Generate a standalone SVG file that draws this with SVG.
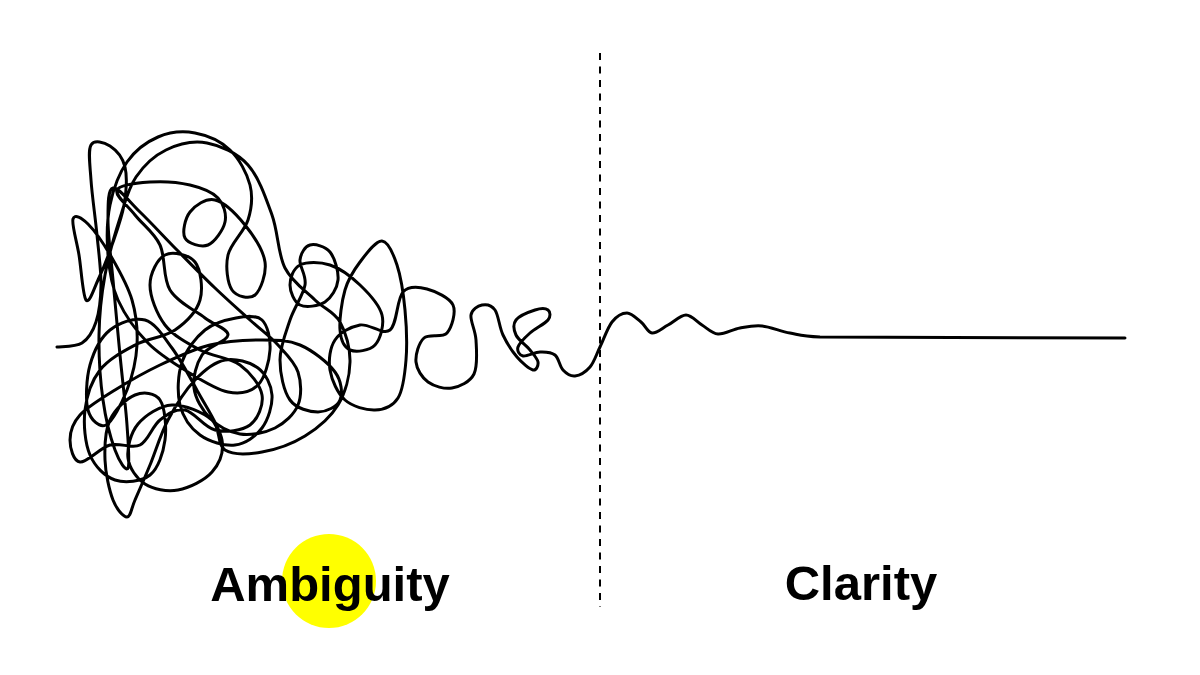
<svg xmlns="http://www.w3.org/2000/svg" width="1200" height="675" viewBox="0 0 1200 675">
<style>
.ink{fill:none;stroke:#000;stroke-width:3;stroke-linecap:round;stroke-linejoin:round}
.divider{fill:none;stroke:#000;stroke-width:2;stroke-dasharray:7 6.5}
.label{font-family:"Liberation Sans",Arial,Helvetica,sans-serif;font-weight:bold;font-size:49px;fill:#000;text-anchor:middle}
</style>
<rect width="1200" height="675" fill="#fff"/>
<g id="divider">
<line class="divider" x1="600" y1="53" x2="600" y2="607"/>
</g>
<g id="scribble">
<path class="ink" d="M57 347 C61.2 346.3 75.5 347.2 82 343 S92.8 331.7 96 322 S100.8 299.5 101 285 S98.7 252.5 97 235 S92 195 91 180 S87.8 150.7 91 145 S104.3 142.3 110 146 S122.7 157.2 125 167 S126.2 192 124 205 S116.3 232.5 112 245 S102.3 270.8 98 280 S89.2 304.2 86 300 S81.2 268.5 79 255 S71.5 224.2 73 219 S81.5 217.5 88 224 S104.7 245.3 112 258 S127.8 285.5 132 300 S137.8 330 137 345 S132.2 376.7 127 390 S112.5 421.7 106 425 S90.7 420 88 410 S86.3 378.3 90 365 S100.8 337.5 110 330 S134.7 317 145 320 S163.2 336 172 348 S189.7 376.7 198 392 S219.7 426.7 222 440 S219.3 463.7 212 472 S189.2 488 178 490 S153.3 489.3 145 484 S129.2 468 128 458 S130.7 432.8 138 424 S159.7 405.7 172 405 S203.2 412.5 212 420 S216.7 444.7 225 450 S248.7 454.3 262 452 S292.3 443.8 305 436 S330.5 417.3 338 405 S349.7 375.8 350 362 S345.8 332.3 340 322 S324.2 309 315 300 S292.2 282.2 285 268 S278.2 232.2 272 215 S258.8 177 248 165 S220.7 145.5 207 143 S177.8 144.3 166 150 S143.7 165.7 136 177 S125.2 201.7 120 218 S108.5 255.5 105 275 S99.3 314.2 99 335 S100.3 380.8 103 400 S110.8 438.7 115 450 S126 472.2 128 468 S128.3 443.8 127 425 S122.3 379.2 120 355 S115 302.5 113 280 S108 235.3 108 220 S107.7 189.3 113 188 S129.3 201.7 140 212 S164.5 237.3 177 250 S202.8 276.3 215 288 S239.5 310.5 250 320 S270 336.3 278 345 S294.7 362 298 372 S301.8 395.7 298 405 S284.7 423.2 275 428 S250.8 435.7 240 434 S217.7 425.7 210 418 S195.3 398.5 194 388 S196.3 363.8 202 355 S227.5 341.2 228 335 S214.7 325.5 205 318 S177.5 302.2 170 290 S165.8 257.5 160 245 S142.2 224.2 135 215 S114.5 195.5 117 190 S137.8 182.8 150 182 S178.7 182.3 190 185 S212.2 191.8 218 198 S226.7 214.2 225 222 S214.7 242.3 208 245 S188 243.5 185 238 S185 218.3 190 212 S205.8 197.8 215 200 S236.7 214.7 245 225 S263.3 250.3 265 262 S260.5 290.3 255 295 S236.5 296.7 232 290 S225.3 266.7 228 255 S244.3 231.7 248 220 S253 196.7 250 185 S239.2 158.7 230 150 S207 135.2 195 133 S169.3 132.2 158 137 S135 150.7 127 162 S113.2 189.5 110 205 S106.7 239.2 108 255 S111.3 285.3 118 300 S136.3 331 148 343 S174.7 363.8 188 372 S216.3 389.8 228 392 S251 392 258 385 S269.3 360.8 270 350 S267.7 325.3 262 320 S245.5 316.3 236 318 S214 322.7 205 330 S186.2 349.5 182 362 S177 392.8 180 405 S190.8 428.3 200 435 S224.7 446.2 235 445 S255.8 436.3 262 428 S272.7 405 272 395 S265.8 373.8 258 368 S235.5 358 225 360 S204.5 370 195 380 S175.5 405.8 168 420 S155.5 451.7 150 465 S138.8 491.3 135 500 S130.7 517 127 517 S116.7 509.5 113 500 S105.5 473.3 105 460 S105 430.8 110 420 S126.7 398.3 135 395 S155 392.5 160 400 S166.7 427.5 165 440 S158.3 468.3 150 475 S125 483.3 115 480 S95 466.7 90 455 S83.3 424.2 85 410 S91.7 380.8 100 370 S122.5 351.7 135 345 S164.2 337.5 175 330 S196.7 311.3 200 300 S200.8 269.5 195 262 S172.5 251.2 165 255 S150 273.3 150 285 S156.7 314.2 165 325 S187.5 343.3 200 350 S229.7 357.5 240 365 S260.3 385 262 395 S257.8 419.2 250 425 S225.8 432.5 215 430 S194.2 411.7 185 410 S167.5 414.2 160 420 S148.3 440.8 140 445 S120 442.2 110 445 S86.7 462.8 80 462 S70 447.8 70 440 S72.5 423.3 80 415 S101.7 398.3 115 390 S144.2 372.5 160 365 S193.3 349.2 210 345 S245 340 260 340 S287.5 339.7 300 345 S328.3 362.8 335 372 S342.8 393.3 340 400 S326.3 412 318 412 S296.3 408.7 290 400 S280 373.3 280 360 S285.8 332.5 290 320 S303.3 295 305 285 S299.2 266.7 300 260 S305 246.3 310 245 S325.3 246.2 330 252 S338.8 271.7 338 280 S331.3 297.8 325 302 S305.8 307.8 300 305 S290 291.7 290 285 S293.3 268.3 300 265 S320 261.7 330 265 S351.3 276.7 360 285 S379.5 305 382 315 S380.3 339.2 375 345 S355.8 352.5 350 350 S340.8 340 340 330 S341.7 301.3 345 290 S353.8 270.2 360 262 S375.8 240.5 382 241 S393.2 253.5 397 265 S403.5 294.2 405 310 S407.2 345.3 406 360 S403.2 389.7 398 398 S383.8 409.7 375 410 S352.5 406.7 345 400 S331.7 380 330 370 S330 347.5 335 340 S350.8 326.7 360 325 S382.8 335.5 390 330 S396.8 298.8 403 292 S418.7 286.8 427 289 S449.7 297.7 453 305 S451.8 327.5 447 333 S429.2 333.2 424 338 S415.3 354.7 416 362 S422 377.7 428 382 S444.3 389.3 452 388 S470 382 474 374 S476.5 349.8 476 340 S470 320.8 471 315 S478 305.8 482 305 S491.5 305 495 310 S499.3 327.2 503 335 S512 351.2 517 357 S529.5 369.2 533 370 S538.5 365.3 538 362 S533.7 354.5 530 350 S518.3 340 516 335 S512.8 324.2 516 320 S529.7 311.7 535 310 S545.8 308.3 548 310 S551 316.2 548 320 S535 328.5 530 333 S519.2 343.2 518 347 S519.3 355.2 523 356 S534.7 352.2 540 352 S551.2 352 555 355 S559.7 366.5 563 370 S570.5 376.5 575 376 S585.8 371.8 590 367 S596.3 354.5 600 347 S607.5 327.7 612 322 S622.2 313 627 313 S636.8 318.7 641 322 S647.5 332.5 652 333 S662.3 328 668 325 S680.3 315 686 315 S696.7 321.8 702 325 S711.7 333.5 718 334 S732.7 329.3 740 328 S753.7 325.2 762 326 S780.3 331.2 790 333 S801.7 336.2 820 337 L1125 338"/>
</g>
<g id="ambiguity">
<circle cx="329" cy="581" r="47" fill="#ffff00"/>
<text class="label" x="330" y="601">Ambiguity</text>
</g>
<g id="clarity">
<text class="label" x="861" y="600">Clarity</text>
</g>
</svg>
